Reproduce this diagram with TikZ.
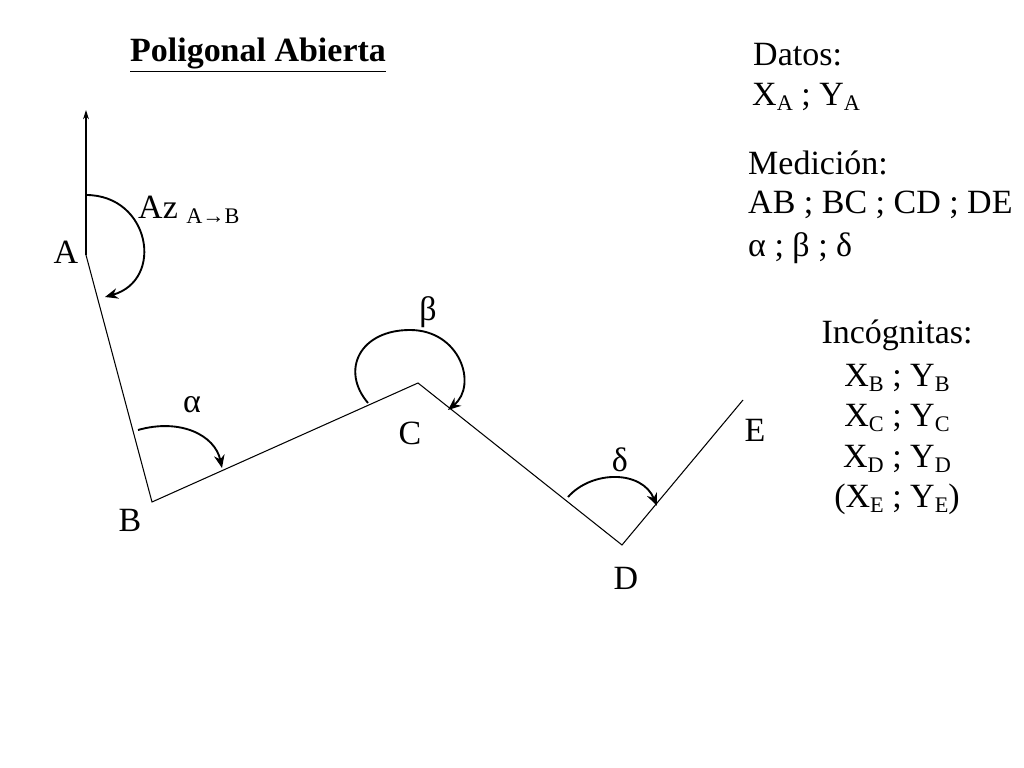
\documentclass[tikz,border=0pt]{standalone}
\usepackage{fontspec}
\setmainfont{Liberation Serif}
\usetikzlibrary{arrows.meta}
\newcommand{\sbs}[1]{\raisebox{-0.35ex}{\fontsize{19}{20}\selectfont #1}}
\begin{document}
\begin{tikzpicture}[x=0.03cm,y=-0.03cm,
  lbl/.style={font=\fontsize{29}{32}\selectfont,inner sep=0pt},
  ln/.style={line width=0.9pt},
  arr/.style={line width=1.6pt,-{Stealth[length=11pt,width=9pt]}}]
\useasboundingbox (0,0) rectangle (1024,768);
\coordinate (N) at (86,110);
\coordinate (A) at (86,255);
\coordinate (B) at (152,502);
\coordinate (C) at (418,383);
\coordinate (D) at (622,545);
\coordinate (E) at (743,400);
\draw[ln,-{Stealth[length=8pt,width=5pt]}] (A) -- (N);
\draw[ln] (A) -- (B) -- (C) -- (D) -- (E);
\draw[arr] (86,195) .. controls (150,195) and (165,280) .. (105,297);
\draw[arr] (138,430) .. controls (180,418) and (215,435) .. (222,468);
\draw[arr] (368,403) .. controls (340,370) and (360,330) .. (410,330) .. controls (460,330) and (478,385) .. (448,410);
\draw[arr] (568,497) .. controls (592,470) and (642,470) .. (657,506);
\node[lbl,font=\fontsize{29}{32}\selectfont\bfseries] (t) at (258,55) {\underline{Poligonal Abierta}};
\node[lbl,anchor=west] (az) at (138,210) {Az \sbs{A→B}};
\node[lbl] (la) at (66,252) {A};
\node[lbl] (lb) at (130,520) {B};
\node[lbl] (lc) at (410,433) {C};
\node[lbl] (ld) at (626,578) {D};
\node[lbl] (le) at (755,430) {E};
\node[lbl] (al) at (192,405) {α};
\node[lbl] (be) at (428,312) {β};
\node[lbl] (de) at (620,460) {δ};
\node[lbl,anchor=west] (d1) at (753,55) {Datos:};
\node[lbl,anchor=west] (d2) at (752,97) {X\sbs{A} ; Y\sbs{A}};
\node[lbl,anchor=west] (m1) at (748,163) {Medición:};
\node[lbl,anchor=west] (m2) at (748,205) {AB ; BC ; CD ; DE};
\node[lbl,anchor=west] (m3) at (748,248) {α ; β ; δ};
\node[lbl] (i1) at (897,335) {Incógnitas:};
\node[lbl] (i2) at (897,378) {X\sbs{B} ; Y\sbs{B}};
\node[lbl] (i3) at (897,418) {X\sbs{C} ; Y\sbs{C}};
\node[lbl] (i4) at (897,459) {X\sbs{D} ; Y\sbs{D}};
\node[lbl] (i5) at (897,499) {(X\sbs{E} ; Y\sbs{E})};
\end{tikzpicture}
\end{document}
